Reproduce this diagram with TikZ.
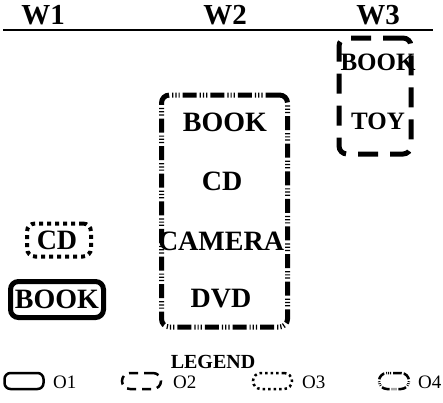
\documentclass[tikz,border=0pt]{standalone}
\usepackage{fontspec}
\setmainfont{Liberation Serif}
\begin{document}
\begin{tikzpicture}[x=1pt,y=-1pt,
  hdr/.style={font=\fontsize{29}{32}\selectfont\bfseries},
  item/.style={font=\fontsize{28}{32}\selectfont\bfseries, inner sep=0pt},
  itemsm/.style={font=\fontsize{25}{28}\selectfont\bfseries, inner sep=0pt},
  lbl/.style={font=\fontsize{19}{22}\selectfont, anchor=west, inner sep=0pt},
  boxo/.style={draw, rounded corners=8pt, inner sep=0pt},
  oone/.style={boxo},
  otwo/.style={boxo, dash pattern=on 20pt off 12pt},
  othree/.style={boxo, dash pattern=on 4pt off 4pt},
  ofour/.style={boxo, dash pattern=on 14pt off 3pt on 1.2pt off 2pt on 1.2pt off 2pt on 1.2pt off 3pt},
]
\useasboundingbox (0,0) rectangle (443,402);
% header
\node[hdr] (w1) at (43,15) {W1};
\node[hdr] (w2) at (225,15) {W2};
\node[hdr] (w3) at (378,15) {W3};
\coordinate (hl) at (3,30);
\coordinate (hr) at (433,30);
\draw[line width=2pt] (hl) -- (hr);
% W3 box
\node[otwo, line width=5pt, minimum width=72pt, minimum height=116pt] (b3) at (375,96) {};
\node[itemsm] (w3book) at (378,62) {BOOK};
\node[itemsm] (w3toy) at (378,121) {TOY};
% W2 box
\node[ofour, line width=5pt, minimum width=126pt, minimum height=232pt] (b2) at (224.5,211) {};
\node[item] (w2book) at (225,122) {BOOK};
\node[item] (w2cd) at (222,181) {CD};
\node[item] (w2cam) at (221,241) {CAMERA};
\node[item] (w2dvd) at (221,299) {DVD};
% W1
\node[othree, line width=4pt, minimum width=64pt, minimum height=33pt] (b1cd) at (59,240) {};
\node[item] (w1cd) at (57,240) {CD};
\node[oone, line width=5pt, minimum width=93pt, minimum height=36pt] (b1book) at (57,299.5) {};
\node[item] (w1book) at (57,299) {BOOK};
% legend
\node[font=\fontsize{20}{22}\selectfont\bfseries] (leg) at (213,362) {LEGEND};
\node[oone, line width=2.5pt, rounded corners=6pt, minimum width=39pt, minimum height=16pt] (l1) at (24,381) {};
\node[lbl] (t1) at (53,382) {O1};
\node[otwo, line width=2.5pt, dash pattern=on 9pt off 6pt, minimum width=39pt, minimum height=16pt] (l2) at (141.5,381) {};
\node[lbl] (t2) at (173,382) {O2};
\node[othree, line width=2.5pt, dash pattern=on 2.5pt off 3pt, minimum width=39pt, minimum height=16pt] (l3) at (272.5,381) {};
\node[lbl] (t3) at (302,382) {O3};
\node[ofour, line width=2.5pt, dash pattern=on 8pt off 2pt on 0.8pt off 1.2pt on 0.8pt off 1.2pt on 0.8pt off 2pt, minimum width=30pt, minimum height=16pt] (l4) at (394,381) {};
\node[lbl] (t4) at (418,382) {O4};
\end{tikzpicture}
\end{document}
